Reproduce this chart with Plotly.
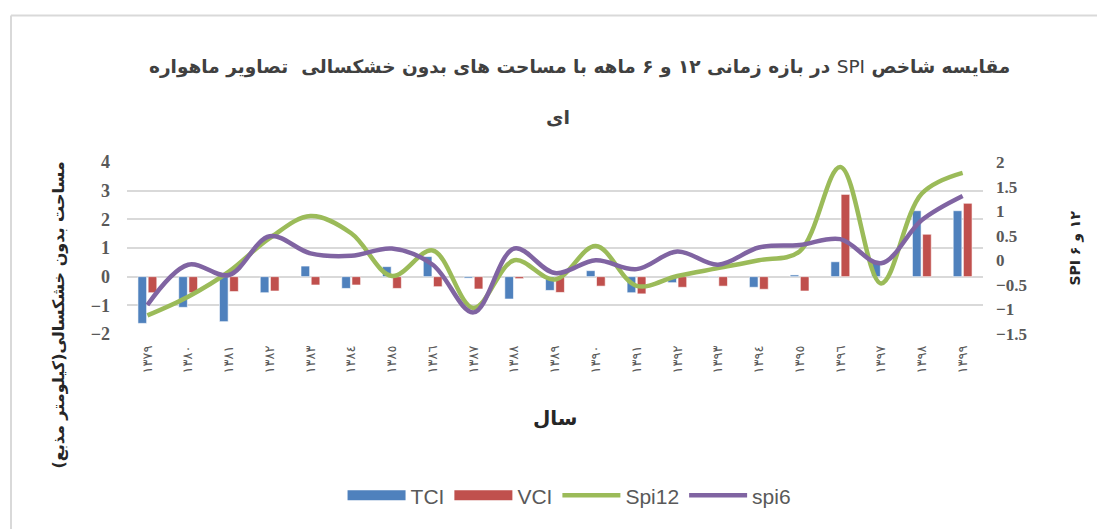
import plotly.graph_objects as go

years = ["١٣٧٩", "١٣٨٠", "١٣٨١", "١٣٨٢", "١٣٨٣", "١٣٨٤", "١٣٨٥", "١٣٨٦", "١٣٨٧", "١٣٨٨",
         "١٣٨٩", "١٣٩٠", "١٣٩١", "١٣٩٢", "١٣٩٣", "١٣٩٤", "١٣٩٥", "١٣٩٦", "١٣٩٧", "١٣٩٨", "١٣٩٩"]
tci = [-1.63, -1.07, -1.57, -0.56, 0.37, -0.41, 0.35, 0.70, -0.05, -0.78,
       -0.48, 0.21, -0.56, -0.21, 0.02, -0.37, 0.06, 0.52, 0.55, 2.30, 2.30]
vci = [-0.56, -0.56, -0.52, -0.50, -0.29, -0.29, -0.41, -0.35, -0.43, -0.07,
       -0.55, -0.33, -0.60, -0.37, -0.33, -0.44, -0.50, 2.87, 0.0, 1.48, 2.56]
spi12 = [-1.12, -0.74, -0.23, 0.45, 0.90, 0.55, -0.32, 0.20, -0.97, 0.0,
         -0.39, 0.29, -0.52, -0.32, -0.16, 0.0, 0.18, 1.90, -0.47, 1.36, 1.78]
spi6 = [-0.91, -0.09, -0.30, 0.49, 0.14, 0.09, 0.24, -0.09, -1.06, 0.24,
        -0.26, 0.0, -0.18, 0.18, -0.09, 0.26, 0.31, 0.43, -0.06, 0.82, 1.31]

RLE, PDF = "\u202b", "\u202c"
FA = "DejaVu Sans"
BLUE, RED, GREEN, PURPLE = "#4f81bd", "#c0504d", "#9bbb59", "#8064a2"

fig = go.Figure()
fig.add_trace(go.Bar(x=years, y=tci, name="TCI", showlegend=False,
                     marker=dict(color=BLUE, line=dict(color="white", width=0.6))))
fig.add_trace(go.Bar(x=years, y=vci, name="VCI", showlegend=False,
                     marker=dict(color=RED, line=dict(color="white", width=0.6))))
fig.add_trace(go.Scatter(x=years, y=spi12, name="Spi12", yaxis="y2", mode="lines", showlegend=False,
                         line=dict(color=GREEN, width=4.5, shape="spline", smoothing=1.0)))
fig.add_trace(go.Scatter(x=years, y=spi6, name="spi6", yaxis="y2", mode="lines", showlegend=False,
                         line=dict(color=PURPLE, width=4.5, shape="spline", smoothing=1.0)))
# legend entries (bars shown as wide swatches like the reference)
for nm, col, w in [("TCI", BLUE, 14), ("VCI", RED, 14), ("Spi12", GREEN, 4.5), ("spi6", PURPLE, 4.5)]:
    fig.add_trace(go.Scatter(x=[None], y=[None], name=nm, mode="lines",
                             line=dict(color=col, width=w)))

# body has an 8px default margin: figure is drawn 8px smaller and offset
fig.update_layout(
    width=1097, height=521,
    margin=dict(l=119, r=122, t=154, b=195),
    paper_bgcolor="white", plot_bgcolor="white",
    barmode="group", bargap=0.5, bargroupgap=0.15,
    showlegend=True,
    legend=dict(orientation="h", x=0.517, xanchor="center", y=-0.94, yanchor="middle",
                font=dict(family="Liberation Sans", size=21, color="#595959"),
                traceorder="normal", itemwidth=58),
    xaxis=dict(type="category", tickangle=-90, showgrid=False, zeroline=False, showline=False,
               ticks="", ticklabelstandoff=8, tickfont=dict(family=FA, size=13, color="#595959")),
    yaxis=dict(range=[-2, 4], dtick=1, showgrid=True, gridcolor="#d9d9d9", gridwidth=1.5,
               zeroline=False, showline=False, ticks="", ticklabelstandoff=16,
               tickfont=dict(family="Liberation Serif", size=18, color="#595959", weight="bold")),
    yaxis2=dict(range=[-1.5, 2], dtick=0.5, overlaying="y", side="right", showgrid=False,
                zeroline=False, showline=False, ticks="", ticklabelstandoff=12,
                tickfont=dict(family="Liberation Serif", size=17, color="#595959", weight="bold")),
)

annotations = [
    dict(text=RLE + "<b>مقایسه شاخص </b>SPI<b> در بازه زمانی ۱۲ و ۶ ماهه با مساحت های بدون خشکسالی  تصاویر ماهواره</b>" + PDF,
         x=0.529, y=1.55, font=dict(family=FA, size=18.5, color="#404040")),
    dict(text=RLE + "<b>ای</b>" + PDF, x=0.503, y=1.26, font=dict(family=FA, size=19, color="#404040")),
    dict(text=RLE + "<b>سال</b>" + PDF, x=0.5, y=-0.49, font=dict(family=FA, size=20, color="#262626")),
    dict(text=RLE + "<b>مساحت بدون خشکسالی(کیلومتر مذبع)</b>" + PDF, x=-0.08, y=0.11, textangle=-90,
         font=dict(family=FA, size=16, color="#262626")),
    dict(text=RLE + "<b>۱۲ و ۶ SPI</b>" + PDF, x=1.107, y=0.5, textangle=-90,
         font=dict(family=FA, size=14, color="#262626")),
]
for a in annotations:
    a.update(xref="paper", yref="paper", showarrow=False, xanchor="center", yanchor="middle")
fig.update_layout(annotations=annotations)

# outer chart border (top and left edges visible)
fig.add_shape(type="line", xref="paper", yref="paper", x0=(11 - 127) / 856, x1=(1110 - 127) / 856,
              y0=(334 - 15) / 172.3, y1=(334 - 15) / 172.3, line=dict(color="#d9d9d9", width=2))
fig.add_shape(type="line", xref="paper", yref="paper", x0=(11 - 127) / 856, x1=(11 - 127) / 856,
              y0=(334 - 15) / 172.3, y1=(334 - 535) / 172.3, line=dict(color="#d9d9d9", width=2))

fig.write_html("out.html")
